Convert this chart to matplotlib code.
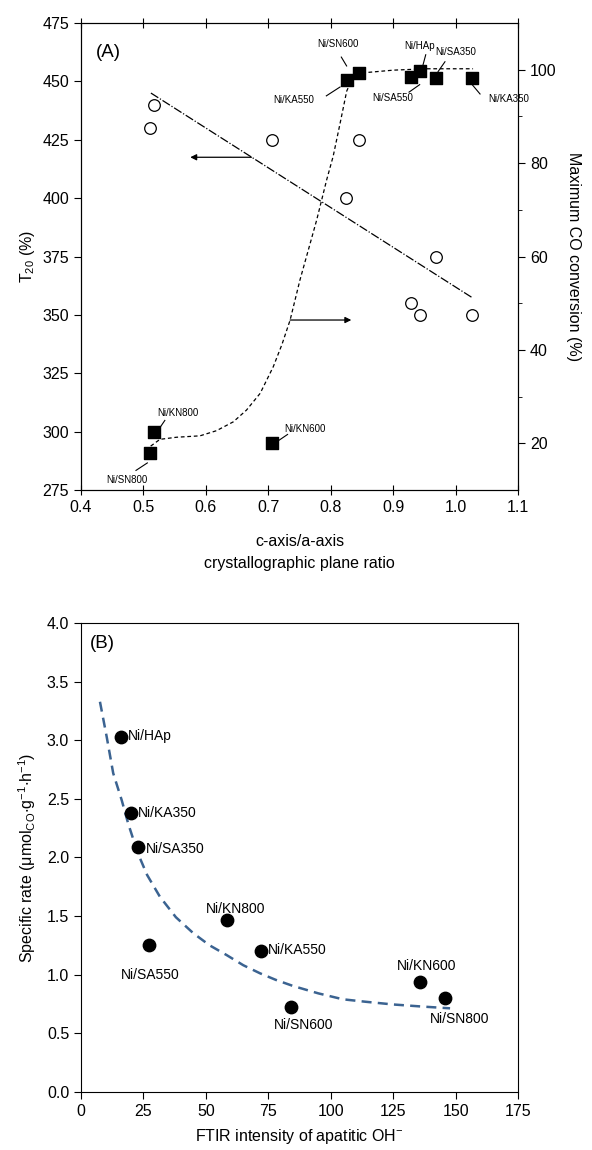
import matplotlib
matplotlib.use("Agg")
import matplotlib.pyplot as plt

plt.rcParams['font.family'] = ['Liberation Sans', 'DejaVu Sans']
plt.rcParams['mathtext.fontset'] = 'custom'
plt.rcParams['mathtext.rm'] = 'Liberation Sans'
plt.rcParams['mathtext.it'] = 'Liberation Sans:italic'

# ---- panel A data ----
t20_ratio = [0.517, 0.5105, 0.706, 0.845, 0.825, 0.968, 0.928, 0.943, 1.026]
t20_value = [440, 430, 425, 425, 400, 375, 355, 350, 350]

t20_fit_x = [0.512, 1.026]
t20_fit_y = [445, 357.5]

conv_names = ['Ni/KA550', 'Ni/SN600', 'Ni/SA550', 'Ni/HAp', 'Ni/SA350',
              'Ni/KA350', 'Ni/KN800', 'Ni/SN800', 'Ni/KN600']
conv_ratio = [0.8256, 0.846, 0.928, 0.943, 0.968, 1.026, 0.517, 0.5105, 0.7055]
conv_value = [97.9, 99.2, 98.4, 99.8, 98.3, 98.3, 22.5, 18.0, 20.0]

conv_fit_x = [0.5116, 0.5265, 0.553, 0.5906, 0.617, 0.644, 0.665, 0.687, 0.708,
              0.722, 0.735, 0.7508, 0.765, 0.7775, 0.7935, 0.804, 0.815, 0.8256,
              0.836, 0.8577, 0.900, 0.953, 1.028]
conv_fit_y = [19.4, 20.85, 21.3, 21.6, 22.7, 24.6, 27.1, 30.7, 36.4,
              41.2, 46.4, 55.0, 61.8, 67.8, 76.4, 81.5, 88.5, 95.4,
              98.6, 99.4, 99.9, 100.2, 100.2]

# label text position (ratio, conversion) for each square
conv_label_xy = [(0.74, 93.5), (0.812, 105.5), (0.90, 94.0), (0.943, 105.0),
                 (1.0, 103.8), (1.085, 93.7), (0.555, 26.5), (0.473, 12.2),
                 (0.759, 23.1)]
conv_leader = [((0.793, 94.4), (0.815, 96.3)), ((0.817, 102.7), (0.8255, 100.8)),
               ((0.9255, 95.2), (0.9425, 96.8)), ((0.9522, 103.2), (0.9478, 101.0)),
               ((0.983, 101.7), (0.972, 99.6)), ((1.0392, 94.8), (1.0247, 97.1)),
               ((0.5343, 24.9), (0.5226, 22.6)), ((0.4881, 14.2), (0.5063, 15.8)),
               ((0.7309, 21.9), (0.7133, 20.3))]

# ---- panel B data ----
oh_names = ['Ni/HAp', 'Ni/KA350', 'Ni/SA350', 'Ni/SA550', 'Ni/KN800',
            'Ni/KA550', 'Ni/KN600', 'Ni/SN800', 'Ni/SN600']
oh_intensity = [16.0, 19.9, 22.7, 27.2, 58.6, 72.2, 135.9, 145.8, 84.0]
oh_rate = [3.03, 2.377, 2.092, 1.253, 1.466, 1.204, 0.939, 0.803, 0.721]
oh_label_xy = [(18.7, 3.04), (22.6, 2.38), (25.8, 2.07), (27.8, 1.0), (61.8, 1.56),
               (75.0, 1.21), (138.5, 1.07), (151.5, 0.62), (89.3, 0.57)]
oh_label_ha = ['left', 'left', 'left', 'center', 'center', 'left', 'center', 'center', 'center']

rate_fit_x = [7.6, 10.3, 12.9, 16.3, 18.9, 22.7, 26.5, 31.6, 38.0, 45.0, 51.5,
              58.3, 65.0, 71.7, 78.0, 84.9, 95.0, 104.9, 114.0, 124.9, 136.0, 147.8]
rate_fit_y = [3.33, 3.03, 2.72, 2.49, 2.29, 2.04, 1.85, 1.665, 1.49, 1.353, 1.25,
              1.167, 1.08, 1.011, 0.955, 0.903, 0.84, 0.789, 0.768, 0.745, 0.728, 0.712]

fig = plt.figure(figsize=(5.92, 11.5), dpi=100)

# ---------------- panel A ----------------
ax = fig.add_axes([0.1368, 0.5739, 0.7382, 0.4061])
ax.scatter(t20_ratio, t20_value, s=70, facecolors='white', edgecolors='black',
           linewidths=0.9, zorder=3)
ax.plot(t20_fit_x, t20_fit_y, color='black', lw=0.9, dashes=(7, 1.5, 1, 1.5))
ax.set_xlim(0.4, 1.1)
ax.set_ylim(275, 475)
ax.set_xticks([0.4, 0.5, 0.6, 0.7, 0.8, 0.9, 1.0, 1.1])
ax.set_yticks(range(275, 476, 25))
ax.tick_params(axis='y', direction='out', length=5, labelsize=11.5)
ax.tick_params(axis='x', direction='inout', length=7, labelsize=11.5, top=True)
ax.set_ylabel(r'T$_{\mathregular{20}}$ (%)', fontsize=11.5, labelpad=4)
ax.set_xlabel('c-axis/a-axis\ncrystallographic plane ratio', fontsize=11.5,
              labelpad=14, linespacing=1.6)
ax.text(0.035, 0.955, '(A)', transform=ax.transAxes, fontsize=13.5, va='top')
ax.annotate('', xy=(0.575, 417.5), xytext=(0.673, 417.5),
            arrowprops=dict(arrowstyle='-|>', color='black', lw=0.9,
                            mutation_scale=9, shrinkA=0, shrinkB=0))

ax2 = ax.twinx()
ax2.plot(conv_fit_x, conv_fit_y, color='black', lw=0.9, dashes=(3, 2.2))
ax2.scatter(conv_ratio, conv_value, s=75, marker='s', color='black', zorder=3)
ax2.set_ylim(10, 110)
ax2.set_yticks([20, 40, 60, 80, 100])
ax2.set_yticks([30, 50, 70, 90], minor=True)
ax2.tick_params(axis='y', which='major', direction='out', length=5, labelsize=11.5)
ax2.tick_params(axis='y', which='minor', direction='out', length=3)
ax2.set_ylabel('Maximum CO conversion (%)', rotation=270, fontsize=11.5, labelpad=18)
ax2.annotate('', xy=(0.833, 46.4), xytext=(0.735, 46.4),
             arrowprops=dict(arrowstyle='-|>', color='black', lw=0.9,
                             mutation_scale=9, shrinkA=0, shrinkB=0))
for name, (tx, ty), (p0, p1) in zip(conv_names, conv_label_xy, conv_leader):
    ax2.text(tx, ty, name, fontsize=7, ha='center', va='center')
    ax2.plot([p0[0], p1[0]], [p0[1], p1[1]], color='black', lw=0.8)

# ---------------- panel B ----------------
bx = fig.add_axes([0.1368, 0.0507, 0.7382, 0.4073])
bx.plot(rate_fit_x, rate_fit_y, color='#3b6391', lw=1.8, dashes=(4, 2.5))
bx.scatter(oh_intensity, oh_rate, s=80, color='black', zorder=3)
for name, (tx, ty), ha in zip(oh_names, oh_label_xy, oh_label_ha):
    bx.text(tx, ty, name, fontsize=10, ha=ha, va='center')
bx.set_xlim(0, 175)
bx.set_ylim(0, 4.0)
bx.set_xticks(range(0, 176, 25))
bx.set_yticks([0.0, 0.5, 1.0, 1.5, 2.0, 2.5, 3.0, 3.5, 4.0])
bx.yaxis.set_major_formatter(matplotlib.ticker.FormatStrFormatter('%.1f'))
bx.tick_params(direction='out', length=5, labelsize=11.5)
bx.set_xlabel(r'FTIR intensity of apatitic OH$^{\mathregular{-}}$', fontsize=11.5, labelpad=6)
bx.set_ylabel(r'Specific rate ($\mathregular{\mu}$mol$_{\mathregular{CO}}$$\mathregular{\cdot}$g$^{\mathregular{-1}}$$\mathregular{\cdot}$h$^{\mathregular{-1}}$)',
              fontsize=11.5, labelpad=6)
bx.text(0.02, 0.975, '(B)', transform=bx.transAxes, fontsize=13.5, va='top')

fig.savefig('out.png', dpi=100)
